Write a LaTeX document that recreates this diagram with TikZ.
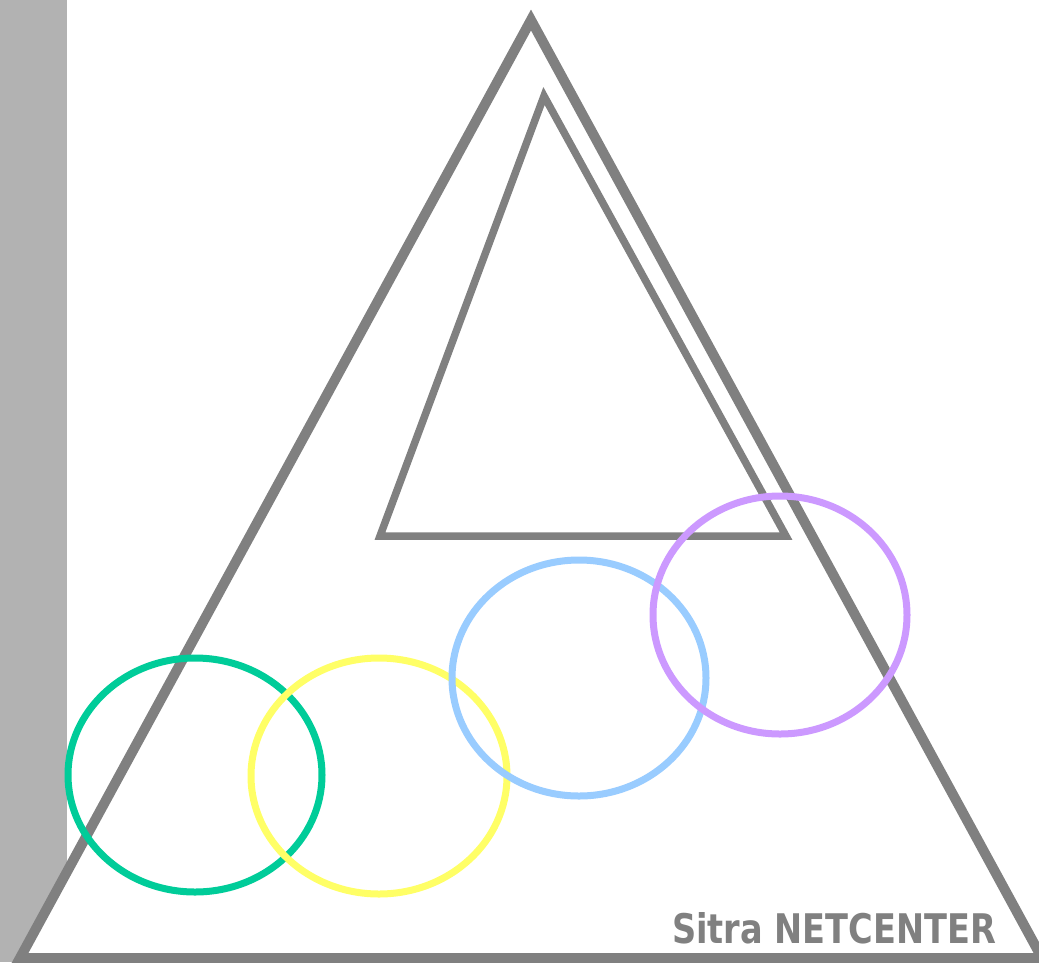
\documentclass[tikz,border=0pt]{standalone}
\usepackage{fontspec}
\setmainfont{DejaVu Sans}
\definecolor{bargray}{HTML}{B2B2B2}
\definecolor{linegray}{HTML}{808080}
\definecolor{ringgreen}{HTML}{00CC99}
\definecolor{ringyellow}{HTML}{FFFF66}
\definecolor{ringblue}{HTML}{99CCFF}
\definecolor{ringpurple}{HTML}{CC99FF}

\begin{document}
\begin{tikzpicture}[x=1pt,y=-1pt,
    frame/.style={draw=linegray,line join=miter,fill=white},
    ring/.style={line width=7pt}]

\useasboundingbox (0,0) rectangle (1039,962);
\fill[bargray] (0,0) rectangle (67,962);

% outer triangle
\coordinate (otop) at (531,20);
\coordinate (oleft) at (20,958);
\coordinate (oright) at (1042,958);
\draw[frame,line width=10pt] (otop) -- (oleft) -- (oright) -- cycle;

% inner triangle
\coordinate (itop) at (544,96);
\coordinate (ileft) at (380,536);
\coordinate (iright) at (786,536);
\draw[frame,line width=7.5pt] (itop) -- (ileft) -- (iright) -- cycle;

% rings
\draw[ring,ringgreen] (195,775) ellipse (127 and 117);
\draw[ring,ringyellow] (379,776) ellipse (128 and 118);
\draw[ring,ringblue] (579,678) ellipse (127 and 118);
\draw[ring,ringpurple] (780,615) ellipse (127 and 119);

\node[anchor=base west,inner sep=0pt,text=linegray] (label) at (672,943)
  {\resizebox{324pt}{31pt}{\bfseries Sitra NETCENTER}};
\end{tikzpicture}
\end{document}
